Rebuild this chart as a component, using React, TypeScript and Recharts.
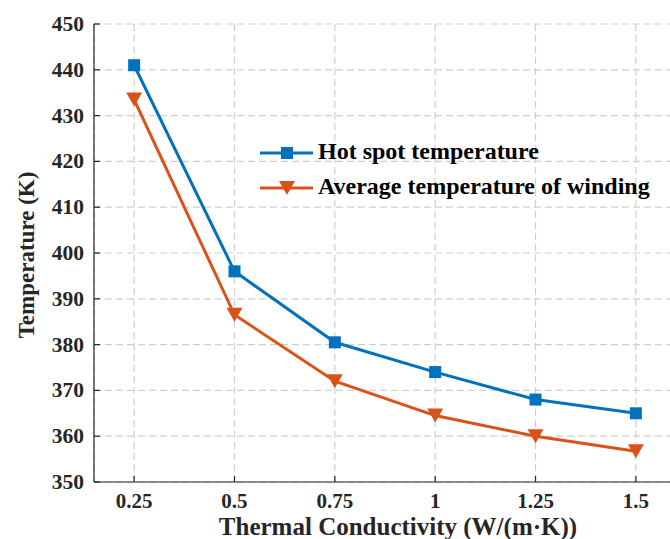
import React from 'react';
import { LineChart, Line, XAxis, YAxis, CartesianGrid } from 'recharts';

const conductivity = [0.25, 0.5, 0.75, 1, 1.25, 1.5];
const hotSpotTemp = [441, 396, 380.5, 374, 368, 365];
const avgWindingTemp = [433.5, 386.5, 372, 364.5, 360, 356.7];
const yTicks = [350, 360, 370, 380, 390, 400, 410, 420, 430, 440, 450];
const seriesNames = ['Hot spot temperature', 'Average temperature of winding'];

const BLUE = '#0072BD';
const ORANGE = '#D95319';
const FONT = '"Liberation Serif", "DejaVu Serif", serif';

const data = conductivity.map((k, i) => ({
  k,
  hot: hotSpotTemp[i],
  avg: avgWindingTemp[i],
}));

const SquareDot = (props: any) => {
  const { cx, cy } = props;
  if (cx == null || cy == null) return null;
  return <rect x={cx - 6} y={cy - 6} width={12} height={12} fill={BLUE} />;
};

const TriangleDot = (props: any) => {
  const { cx, cy } = props;
  if (cx == null || cy == null) return null;
  return (
    <polygon
      points={`${cx - 8},${cy - 7} ${cx + 8},${cy - 7} ${cx},${cy + 7}`}
      fill={ORANGE}
    />
  );
};

// ticks point inward, like a boxed axis
const BottomTick = (props: any) => {
  const { x, y, payload } = props;
  return (
    <g>
      <line x1={x} x2={x} y1={y} y2={y - 6} stroke="#262626" strokeWidth={1.2} />
      <text x={x} y={y + 26} textAnchor="middle" fontFamily={FONT} fontWeight="bold" fontSize={21} fill="#262626">
        {payload.value}
      </text>
    </g>
  );
};

const TopTick = (props: any) => {
  const { x, y } = props;
  return <line x1={x} x2={x} y1={y} y2={y + 6} stroke="#262626" strokeWidth={1.2} />;
};

const LeftTick = (props: any) => {
  const { x, y, payload } = props;
  return (
    <g>
      <line x1={x} x2={x + 6} y1={y} y2={y} stroke="#262626" strokeWidth={1.2} />
      <text x={x - 10} y={y + 7} textAnchor="end" fontFamily={FONT} fontWeight="bold" fontSize={21.5} fill="#262626">
        {payload.value}
      </text>
    </g>
  );
};

const RightTick = (props: any) => {
  const { x, y } = props;
  return <line x1={x} x2={x - 6} y1={y} y2={y} stroke="#262626" strokeWidth={1.2} />;
};

const LegendBox = () => {
  const colors = [BLUE, ORANGE];
  return (
    <svg width={410} height={90} style={{ position: 'absolute', left: 260, top: 125 }}>
      {seriesNames.map((name, i) => {
        const cy = 28 + i * 35;
        return (
          <g key={name}>
            <line x1={0} x2={53} y1={cy} y2={cy} stroke={colors[i]} strokeWidth={3} />
            {i === 0 ? (
              <rect x={21} y={cy - 6} width={12} height={12} fill={colors[i]} />
            ) : (
              <polygon points={`${19},${cy - 7} ${35},${cy - 7} ${27},${cy + 7}`} fill={colors[i]} />
            )}
            <text x={58} y={cy + 6} fontFamily={FONT} fontWeight="bold" fontSize={24} fill="#000">
              {name}
            </text>
          </g>
        );
      })}
    </svg>
  );
};

export default function App() {
  return (
    <div style={{ position: 'absolute', left: 0, top: 0, width: 670, height: 539, overflow: 'hidden', background: '#fff' }}>
      <LineChart
        width={690}
        height={539}
        data={data}
        margin={{ top: 24, right: 14, bottom: 7, left: 14 }}
      >
        <CartesianGrid stroke="#cfcfcf" strokeWidth={1.2} strokeDasharray="7 4" />
        <XAxis
          dataKey="k"
          type="number"
          domain={[0.15, 1.6]}
          ticks={conductivity}
          height={50}
          tickSize={0}
          tickMargin={0}
          tickLine={false}
          axisLine={{ stroke: '#262626', strokeWidth: 1.2 }}
          tick={<BottomTick />}
          interval={0}
        />
        <XAxis
          xAxisId="top"
          orientation="top"
          dataKey="k"
          type="number"
          domain={[0.15, 1.6]}
          ticks={conductivity}
          height={0}
          tickSize={0}
          tickMargin={0}
          tickLine={false}
          axisLine={{ stroke: '#262626', strokeWidth: 1.2 }}
          tick={<TopTick />}
          interval={0}
        />
        <YAxis
          type="number"
          domain={[350, 450]}
          ticks={yTicks}
          width={80}
          tickSize={0}
          tickMargin={0}
          tickLine={false}
          axisLine={{ stroke: '#262626', strokeWidth: 1.2 }}
          tick={<LeftTick />}
          interval={0}
        />
        <YAxis
          yAxisId="right"
          orientation="right"
          type="number"
          domain={[350, 450]}
          ticks={yTicks}
          width={0}
          tickSize={0}
          tickMargin={0}
          tickLine={false}
          axisLine={{ stroke: '#262626', strokeWidth: 1.2 }}
          tick={<RightTick />}
          interval={0}
        />
        <Line
          type="linear"
          dataKey="hot"
          name={seriesNames[0]}
          stroke={BLUE}
          strokeWidth={3}
          dot={<SquareDot />}
          activeDot={false}
          isAnimationActive={false}
        />
        <Line
          type="linear"
          dataKey="avg"
          name={seriesNames[1]}
          stroke={ORANGE}
          strokeWidth={3}
          dot={<TriangleDot />}
          activeDot={false}
          isAnimationActive={false}
        />
        <text x={398} y={535} textAnchor="middle" fontFamily={FONT} fontWeight="bold" fontSize={25} fill="#262626">
          Thermal Conductivity (W/(m·K))
        </text>
        <text
          x={34}
          y={255}
          transform="rotate(-90 34 255)"
          textAnchor="middle"
          fontFamily={FONT}
          fontWeight="bold"
          fontSize={23}
          fill="#262626"
        >
          Temperature (K)
        </text>
      </LineChart>
      <LegendBox />
    </div>
  );
}
